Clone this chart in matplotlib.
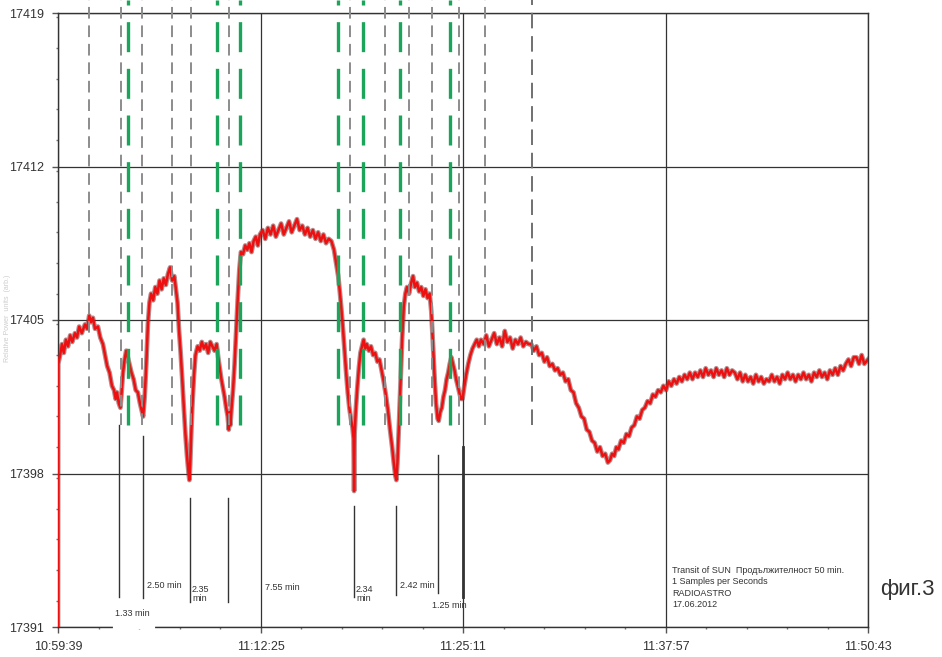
import matplotlib
matplotlib.use("Agg")
import matplotlib.pyplot as plt
from matplotlib.ticker import FixedLocator, MultipleLocator

plt.rcParams['font.family'] = ['Liberation Sans', 'DejaVu Sans']

# ---- data (seconds from 10:59:39, relative power) ----
t_sec = [0, 1, 8, 15, 22, 30, 38, 46, 54, 64, 72, 80, 90, 102, 110, 118, 125, 132, 140, 151,
         160, 170, 178, 186, 195, 204, 212, 218, 223, 230, 236, 240, 246, 252, 258, 264, 270, 278, 286, 294,
         302, 310, 316, 322, 328, 334, 340, 346, 352, 360, 368, 376, 384, 392, 400, 408, 416, 424, 432, 440,
         446, 452, 458, 464, 470, 476, 482, 488, 494, 497, 500, 504, 508, 514, 520, 528, 536, 544, 552, 560,
         568, 576, 584, 592, 600, 606, 612, 618, 624, 630, 636, 642, 646, 648, 652, 656, 662, 668, 674, 680,
         686, 692, 700, 708, 716, 724, 732, 740, 748, 756, 764, 774, 784, 794, 804, 814, 824, 834, 844, 854,
         864, 874, 884, 894, 904, 914, 924, 934, 944, 954, 964, 974, 984, 994, 1004, 1014, 1024, 1034, 1044, 1052,
         1060, 1066, 1072, 1078, 1084, 1090, 1096, 1102, 1108, 1114, 1118, 1120, 1122, 1126, 1132, 1138, 1144, 1150, 1156, 1162,
         1168, 1176, 1184, 1192, 1200, 1208, 1216, 1224, 1232, 1240, 1248, 1256, 1264, 1270, 1276, 1280, 1284, 1290, 1296, 1302,
         1308, 1314, 1320, 1328, 1336, 1343, 1350, 1358, 1366, 1374, 1382, 1390, 1398, 1406, 1412, 1418, 1424, 1430, 1436, 1440,
         1446, 1452, 1458, 1464, 1470, 1476, 1482, 1488, 1494, 1500, 1506, 1512, 1518, 1524, 1530, 1536, 1544, 1552, 1560, 1568,
         1576, 1584, 1592, 1600, 1610, 1620, 1630, 1640, 1650, 1660, 1670, 1680, 1690, 1700, 1710, 1720, 1730, 1740, 1750, 1760,
         1770, 1780, 1790, 1800, 1810, 1820, 1830, 1840, 1850, 1860, 1870, 1880, 1890, 1900, 1910, 1920, 1930, 1940, 1950, 1960,
         1970, 1980, 1990, 2000, 2010, 2020, 2030, 2040, 2050, 2060, 2070, 2080, 2088, 2096, 2104, 2112, 2120, 2130, 2140, 2150,
         2160, 2170, 2180, 2190, 2200, 2210, 2220, 2230, 2240, 2250, 2260, 2270, 2280, 2290, 2300, 2310, 2320, 2330, 2340, 2350,
         2360, 2370, 2380, 2390, 2400, 2410, 2420, 2430, 2440, 2450, 2460, 2470, 2480, 2490, 2500, 2510, 2520, 2530, 2540, 2550,
         2560, 2570, 2580, 2590, 2600, 2610, 2620, 2630, 2640, 2650, 2660, 2670, 2680, 2690, 2700, 2710, 2720, 2730, 2740, 2750,
         2760, 2770, 2780, 2790, 2800, 2810, 2820, 2830, 2840, 2850, 2860, 2870, 2880, 2890, 2900, 2910, 2920, 2930, 2940, 2950,
         2960, 2970, 2980, 2990, 3000, 3010, 3020, 3030, 3040, 3050, 3064]

signal = [17391.0, 17403.0, 17403.4, 17403.9, 17403.5, 17404.1, 17403.8, 17404.3, 17404.0, 17404.4, 17404.2, 17404.7, 17404.4, 17404.8, 17404.6, 17405.2, 17404.9, 17405.1, 17404.6, 17404.7,
          17404.2, 17403.9, 17403.4, 17402.9, 17402.6, 17402.0, 17401.8, 17401.4, 17401.7, 17401.2, 17401.0, 17401.6, 17402.6, 17403.2, 17403.6, 17403.3, 17403.0, 17402.6, 17402.3, 17401.8,
          17401.7, 17401.2, 17400.9, 17400.6, 17401.5, 17403.0, 17404.8, 17405.8, 17406.2, 17405.9, 17406.5, 17406.2, 17406.8, 17406.4, 17406.9, 17406.6, 17407.1, 17407.4, 17406.8, 17407.0,
          17406.4, 17405.8, 17404.5, 17403.5, 17402.3, 17401.0, 17399.8, 17398.8, 17398.0, 17397.7, 17398.4, 17399.8, 17401.0, 17402.4, 17403.4, 17403.8, 17403.6, 17404.0, 17403.7, 17403.9,
          17403.5, 17404.0, 17403.8, 17403.6, 17403.9, 17403.3, 17402.8, 17402.3, 17401.9, 17401.5, 17401.0, 17400.6, 17400.0, 17400.8, 17400.2, 17400.9, 17401.8, 17403.0, 17404.5, 17406.0,
          17407.3, 17408.1, 17408.0, 17408.4, 17408.2, 17408.5, 17408.1, 17408.6, 17408.8, 17408.4, 17408.9, 17409.1, 17408.7, 17409.2, 17408.9, 17409.3, 17408.8, 17409.1, 17409.4, 17408.9,
          17409.2, 17409.5, 17409.0, 17409.3, 17409.6, 17409.1, 17409.3, 17408.9, 17409.2, 17408.8, 17409.1, 17408.7, 17409.0, 17408.6, 17408.9, 17408.5, 17408.7, 17408.6, 17408.2, 17407.6,
          17407.0, 17406.3, 17405.5, 17404.6, 17403.6, 17402.6, 17401.7, 17401.0, 17400.5, 17400.1, 17399.6, 17397.2, 17399.8, 17400.8, 17401.9, 17402.8, 17403.5, 17403.8, 17404.1, 17403.7,
          17403.9, 17403.6, 17403.8, 17403.4, 17403.5, 17403.1, 17403.2, 17402.7, 17402.2, 17401.6, 17400.9, 17400.0, 17399.2, 17398.5, 17397.9, 17397.7, 17398.5, 17400.3, 17402.3, 17404.2,
          17405.6, 17406.2, 17406.5, 17406.2, 17406.7, 17407.0, 17406.5, 17406.7, 17406.3, 17406.5, 17406.1, 17406.4, 17406.0, 17406.2, 17405.4, 17404.0, 17402.5, 17401.2, 17400.5, 17400.4,
          17400.8, 17401.0, 17401.5, 17401.8, 17402.3, 17402.6, 17403.0, 17403.3, 17403.0, 17402.7, 17402.3, 17402.0, 17401.7, 17401.4, 17401.4, 17401.9, 17402.5, 17403.0, 17403.4, 17403.7,
          17403.9, 17404.1, 17403.8, 17404.1, 17403.9, 17404.3, 17403.8, 17404.1, 17404.4, 17403.9, 17404.2, 17403.8, 17404.5, 17404.0, 17404.2, 17403.7, 17404.1, 17403.9, 17404.2, 17403.8,
          17404.0, 17403.9, 17403.9, 17403.6, 17403.8, 17403.4, 17403.5, 17403.1, 17403.3, 17402.9, 17403.0, 17402.7, 17402.8, 17402.5, 17402.6, 17402.2, 17402.3, 17401.8, 17401.7, 17401.2,
          17401.0, 17400.6, 17400.5, 17400.0, 17399.9, 17399.5, 17399.4, 17399.0, 17399.2, 17398.8, 17398.9, 17398.5, 17398.6, 17398.9, 17398.8, 17399.2, 17399.1, 17399.5, 17399.4, 17399.8,
          17399.7, 17400.1, 17400.2, 17400.6, 17400.5, 17400.9, 17401.0, 17401.3, 17401.2, 17401.6, 17401.5, 17401.8, 17401.7, 17402.0, 17401.8, 17402.2, 17402.0, 17402.3, 17402.1, 17402.4,
          17402.2, 17402.5, 17402.3, 17402.6, 17402.3, 17402.6, 17402.4, 17402.7, 17402.4, 17402.8, 17402.5, 17402.7, 17402.4, 17402.8, 17402.5, 17402.7, 17402.4, 17402.8, 17402.5, 17402.7,
          17402.6, 17402.3, 17402.6, 17402.2, 17402.5, 17402.2, 17402.4, 17402.1, 17402.5, 17402.2, 17402.4, 17402.1, 17402.3, 17402.2, 17402.5, 17402.2, 17402.4, 17402.1, 17402.5, 17402.3,
          17402.6, 17402.3, 17402.5, 17402.2, 17402.5, 17402.3, 17402.6, 17402.3, 17402.5, 17402.2, 17402.6, 17402.4, 17402.7, 17402.4, 17402.6, 17402.3, 17402.7, 17402.5, 17402.8, 17402.5,
          17402.9, 17402.7, 17403.0, 17403.2, 17402.9, 17403.3, 17403.3, 17403.0, 17403.4, 17403.0, 17403.2]

x_ticks = [0, 766, 1532, 2298, 3064]
x_labels = ["10:59:39", "11:12:25", "11:25:11", "11:37:57", "11:50:43"]
y_ticks = [17391, 17398, 17405, 17412, 17419]

gray_marks = [117, 238, 318, 431, 503, 647, 1105, 1237, 1328, 1415, 1517, 1615]
gray_mark_dark = [1793]
green_marks = [265, 601, 688, 1059, 1154, 1294, 1483]

# measurement lines: (time, top value, bottom value)
meas_t = [231, 322, 499, 643, 1120, 1279, 1438, 1532]
meas_top = [17400.2, 17399.7, 17396.9, 17396.9, 17396.5, 17396.5, 17398.85, 17399.2]
meas_bot = [17392.37, 17392.32, 17392.14, 17392.14, 17392.37, 17392.46, 17392.55, 17392.37]

dur_labels = ["1.33 min", "2.50 min", "2.35\nmin", "7.55 min", "2.34\nmin", "2.42 min", "1.25 min"]
dur_t = [216, 337, 507, 783, 1127, 1294, 1415]
dur_v = [17391.6, 17392.87, 17392.5, 17392.78, 17392.5, 17392.87, 17391.96]

info_text = "Transit of SUN  Продължителност 50 min.\n1 Samples per Seconds\nRADIOASTRO\n17.06.2012"

# ---- figure ----
fig = plt.figure(figsize=(9.42, 6.57), dpi=100)
ax = fig.add_axes([58/942, 30/657, 810/942, 614/657])
ax.set_xlim(0, 3064)
ax.set_ylim(17391, 17419)

ax.xaxis.set_major_locator(FixedLocator(x_ticks))
ax.set_xticklabels(x_labels)
ax.xaxis.set_minor_locator(MultipleLocator(766/5))
ax.yaxis.set_major_locator(FixedLocator(y_ticks))
ax.yaxis.set_minor_locator(MultipleLocator(1.4))
ax.tick_params(which='major', direction='out', length=4, width=1, color='#555555',
               labelsize=9, labelcolor='#333333', pad=6)
ax.tick_params(which='minor', direction='out', length=1.5, width=1, color='#777777')
ax.grid(True, which='major', color='#333333', lw=0.9)
for s in ax.spines.values():
    s.set_color('#333333')
    s.set_linewidth(1)
ax.set_axisbelow(True)

top_ext = 17419.6
line_bottom = 17400.2
for t in gray_marks:
    ax.plot([t, t], [line_bottom, top_ext], color='#8c8c8c', lw=1.4, dashes=(6, 3.5), clip_on=False, zorder=6)
for t in gray_mark_dark:
    ax.plot([t, t], [line_bottom, top_ext], color='#707070', lw=1.4, dashes=(8, 4), clip_on=False, zorder=6)
for t in green_marks:
    ax.plot([t, t], [line_bottom, top_ext], color='#1aa55a', lw=2.4, dashes=(9, 5), clip_on=False, zorder=6)

for t, a, b in zip(meas_t, meas_top, meas_bot):
    ax.plot([t, t], [b, a], color='#333333', lw=2.0 if t == 1532 else 1.0, zorder=3)

ax.plot(t_sec, signal, color='#7a3030', lw=3.4, alpha=0.55, zorder=4)
ax.plot(t_sec, signal, color='#ee1010', lw=1.8, zorder=5)

for lab, t, v in zip(dur_labels, dur_t, dur_v):
    ax.text(t, v, lab, fontsize=6.5, color='#333333', ha='left', va='center',
            linespacing=1.1, zorder=6)

# white gap in the bottom axis behind "1.33 min"
ax.plot([216, 359], [17391, 17391], color='white', lw=3, clip_on=False, zorder=7)

ax.text(2323, 17393.8, info_text, fontsize=6.5, color='#333333', ha='left', va='top',
        linespacing=1.35, zorder=6)

fig.text(8/942, 1 - 318/657, "Relative Power  units  (arb.)", rotation=90, fontsize=5,
         color='#cccccc', ha='center', va='center')
fig.text(880/942, 1 - 590/657, "фиг.3", fontsize=16, color='#333333', ha='left', va='center')

fig.savefig("out.png", dpi=100)
